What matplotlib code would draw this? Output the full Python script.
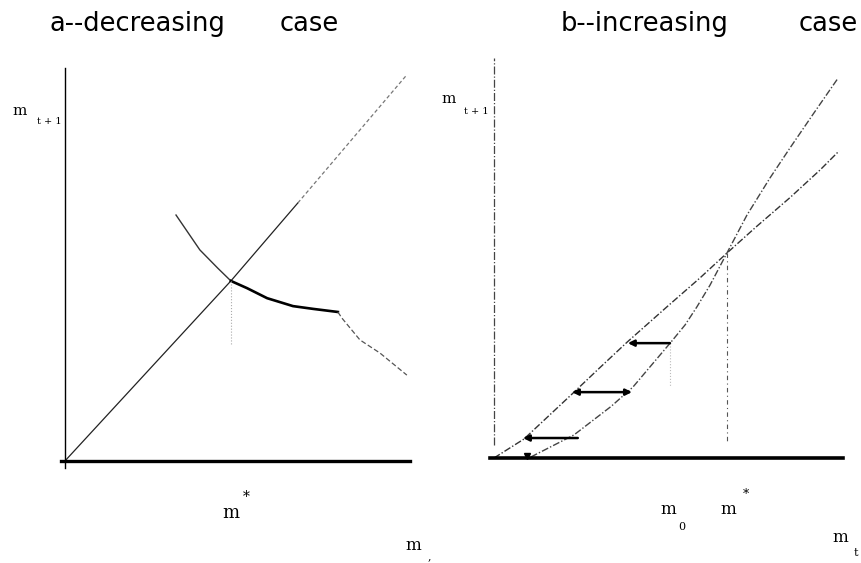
import matplotlib.pyplot as plt

# ---- panel a: decreasing case ----
diag_a_x = [0, 4.81, 6.75, 9.88]
diag_a_y = [0, 5.22, 7.48, 11.16]
dec_x = [3.22, 3.91, 4.43, 4.81, 5.28, 5.86, 6.61, 7.19, 7.91, 8.03, 8.55, 9.13, 9.91]
dec_y = [7.13, 6.12, 5.59, 5.22, 5.01, 4.72, 4.49, 4.41, 4.32, 4.14, 3.51, 3.13, 2.49]
mstar_a = 4.81

# ---- panel b: increasing case ----
upper_x = [0, 0.87, 2.29, 3.07, 3.86, 5.01, 5.97, 6.75, 7.62, 8.58, 9.45, 10.0]
upper_y = [0, 0.55, 1.88, 2.62, 3.36, 4.38, 5.22, 5.94, 6.72, 7.55, 8.35, 8.90]
lower_x = [1.07, 2.32, 3.40, 4.03, 4.52, 5.13, 5.54, 5.88, 6.26, 6.75,
           7.33, 8.00, 8.58, 9.25, 9.97]
lower_y = [0.03, 0.67, 1.50, 2.06, 2.64, 3.36, 3.86, 4.38, 5.01, 5.94,
           7.04, 8.12, 8.99, 9.97, 11.01]
mstar_b = 6.75
m0_b = 5.10
arrow_y = [3.33, 1.91, 0.58]
arrow_start = [5.10, 2.26, 2.43]
arrow_end = [3.88, 4.00, 0.84]
arrow_kind = ['-|>', '<|-|>', '-|>']

fig = plt.figure(figsize=(8.62, 5.63), dpi=100)
serif = 'DejaVu Serif'


def setup(ax):
    for s in ['top', 'right']:
        ax.spines[s].set_visible(False)
    ax.set_xticks([])
    ax.set_yticks([])
    ax.patch.set_alpha(0)


# panel a
ax1 = fig.add_axes([0.0713, 0.1689, 0.4043, 0.7108])
setup(ax1)
ax1.set_xlim(-0.1, 10.0)
ax1.set_ylim(-0.2, 11.4)
ax1.spines['left'].set_position(('data', 0))
ax1.spines['bottom'].set_position(('data', 0))
ax1.spines['left'].set_linewidth(1.0)
ax1.spines['bottom'].set_linewidth(2.4)

# 45 degree line, upper part looks faded in the scan
ax1.plot(diag_a_x[:3], diag_a_y[:3], color='#222222', lw=0.9)
ax1.plot(diag_a_x[2:], diag_a_y[2:], color='#777777', lw=0.9, ls=(0, (3, 2)))
# decreasing curve: thin, thick, faded
ax1.plot(dec_x[:4], dec_y[:4], color='#333333', lw=1.0)
ax1.plot(dec_x[3:9], dec_y[3:9], color='black', lw=1.9)
ax1.plot(dec_x[8:], dec_y[8:], color='#555555', lw=0.9, ls=(0, (4, 2)))
ax1.plot([mstar_a, mstar_a], [dec_y[3], 3.4], color='#aaaaaa', lw=0.8, ls=':')

ax1.text(mstar_a, -1.5, 'm', family=serif, fontsize=13, ha='center', va='center', clip_on=False)
ax1.text(mstar_a + 0.45, -1.05, '*', family=serif, fontsize=10, ha='center', va='center', clip_on=False)
ax1.text(10.09, -2.45, 'm', family=serif, fontsize=12, ha='center', va='center', clip_on=False)
ax1.text(10.55, -2.75, ',', family=serif, fontsize=8, ha='center', va='center', clip_on=False)
ax1.text(-1.3, 10.15, 'm', family=serif, fontsize=11, ha='center', va='center', clip_on=False)
ax1.text(-0.45, 9.85, 't + 1', family=serif, fontsize=7, ha='center', va='center', clip_on=False)

# panel b
ax2 = fig.add_axes([0.569, 0.1742, 0.4084, 0.7231])
setup(ax2)
ax2.set_xlim(-0.1, 10.1)
ax2.set_ylim(-0.2, 11.6)
ax2.spines['left'].set_visible(False)
ax2.spines['bottom'].set_position(('data', 0))
ax2.spines['bottom'].set_linewidth(2.6)
ax2.axvline(0, ymin=0.05, ymax=1.0, color='#444444', lw=0.9, ls='-.')

ax2.plot(upper_x, upper_y, color='#333333', lw=1.0, ls=(0, (5, 1.5, 1, 1.5)))
ax2.plot(lower_x, lower_y, color='#444444', lw=1.0, ls=(0, (5, 1.5, 1, 1.5)))
ax2.plot([mstar_b, mstar_b], [upper_y[7], 0.5], color='#555555', lw=0.8, ls=(0, (4, 3, 1, 3)))
ax2.plot([m0_b, m0_b], [arrow_y[0], 2.1], color='#bbbbbb', lw=0.8, ls=':')
ax2.plot([lower_x[0] - 0.1], [0.05], marker='v', color='black', ms=5)

for y, x0, x1, k in zip(arrow_y, arrow_start, arrow_end, arrow_kind):
    ax2.annotate('', xy=(x1, y), xytext=(x0, y),
                 arrowprops=dict(arrowstyle=k, color='black', lw=1.8,
                                 shrinkA=0, shrinkB=0, mutation_scale=9))

ax2.text(m0_b - 0.05, -1.5, 'm', family=serif, fontsize=12, ha='center', va='center', clip_on=False)
ax2.text(m0_b + 0.35, -2.0, '0', family=serif, fontsize=8, ha='center', va='center', clip_on=False)
ax2.text(mstar_b + 0.05, -1.5, 'm', family=serif, fontsize=12, ha='center', va='center', clip_on=False)
ax2.text(mstar_b + 0.55, -1.05, '*', family=serif, fontsize=9, ha='center', va='center', clip_on=False)
ax2.text(10.04, -2.3, 'm', family=serif, fontsize=12, ha='center', va='center', clip_on=False)
ax2.text(10.5, -2.75, 't', family=serif, fontsize=8, ha='center', va='center', clip_on=False)
ax2.text(-1.3, 10.4, 'm', family=serif, fontsize=11, ha='center', va='center', clip_on=False)
ax2.text(-0.5, 10.05, 't + 1', family=serif, fontsize=7, ha='center', va='center', clip_on=False)

# titles
fig.text(50 / 862, 1 - 24 / 563, 'a--decreasing', fontsize=18.5, va='center', ha='left')
fig.text(280 / 862, 1 - 24 / 563, 'case', fontsize=18.5, va='center', ha='left')
fig.text(561 / 862, 1 - 24 / 563, 'b--increasing', fontsize=18.5, va='center', ha='left')
fig.text(799 / 862, 1 - 24 / 563, 'case', fontsize=18.5, va='center', ha='left')

fig.savefig('out.png', dpi=100)
